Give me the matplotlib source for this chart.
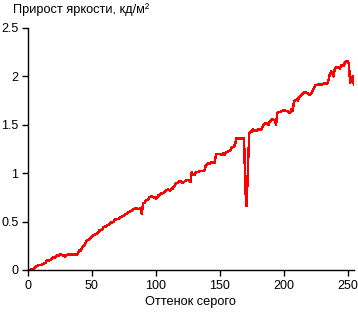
import matplotlib.pyplot as plt
import numpy as np

# gray level 0..255 -> brightness increment
gray = np.arange(256)
gain = [
    0.0, 0.0, 0.0, 0.01, 0.01, 0.02, 0.03, 0.04, 0.05, 0.05, 0.05, 0.06, 0.06, 0.07, 0.08, 0.1,
    0.1, 0.1, 0.11, 0.12, 0.13, 0.13, 0.14, 0.15, 0.15, 0.16, 0.16, 0.15, 0.15, 0.14, 0.15, 0.16,
    0.16, 0.16, 0.16, 0.16, 0.16, 0.16, 0.16, 0.17, 0.2, 0.2, 0.22, 0.25, 0.25, 0.28, 0.31, 0.31,
    0.32, 0.33, 0.35, 0.36, 0.36, 0.37, 0.38, 0.39, 0.41, 0.41, 0.42, 0.44, 0.45, 0.45, 0.46, 0.47,
    0.48, 0.49, 0.49, 0.5, 0.52, 0.52, 0.53, 0.53, 0.54, 0.55, 0.56, 0.56, 0.58, 0.58, 0.59, 0.6,
    0.61, 0.61, 0.62, 0.63, 0.64, 0.64, 0.63, 0.63, 0.64, 0.58, 0.69, 0.69, 0.72, 0.72, 0.73, 0.75,
    0.76, 0.76, 0.75, 0.75, 0.74, 0.75, 0.77, 0.77, 0.79, 0.79, 0.8, 0.81, 0.82, 0.83, 0.83, 0.82,
    0.84, 0.84, 0.86, 0.88, 0.9, 0.9, 0.91, 0.92, 0.91, 0.9, 0.91, 0.92, 0.93, 0.93, 0.92, 0.91,
    1.01, 0.99, 0.98, 1.0, 1.01, 1.01, 1.02, 1.02, 1.02, 1.02, 1.03, 1.08, 1.09, 1.1, 1.1, 1.11,
    1.11, 1.11, 1.11, 1.19, 1.2, 1.2, 1.2, 1.19, 1.19, 1.21, 1.19, 1.22, 1.22, 1.23, 1.23, 1.26,
    1.27, 1.27, 1.3, 1.36, 1.36, 1.36, 1.36, 1.36, 1.36, 1.36, 0.83, 0.66, 1.03, 1.41, 1.43, 1.43,
    1.45, 1.44, 1.44, 1.44, 1.45, 1.45, 1.45, 1.46, 1.5, 1.51, 1.52, 1.51, 1.5, 1.53, 1.55, 1.56,
    1.55, 1.55, 1.5, 1.62, 1.63, 1.63, 1.64, 1.64, 1.65, 1.65, 1.64, 1.64, 1.63, 1.62, 1.66, 1.64,
    1.74, 1.75, 1.76, 1.75, 1.79, 1.79, 1.81, 1.82, 1.84, 1.84, 1.83, 1.82, 1.81, 1.82, 1.83, 1.86,
    1.89, 1.91, 1.91, 1.92, 1.92, 1.91, 1.92, 1.92, 1.93, 1.93, 1.92, 1.96, 2.02, 2.05, 2.03, 2.0,
    2.08, 2.09, 2.1, 2.09, 2.08, 2.12, 2.11, 2.11, 2.15, 2.16, 2.16, 2.13, 1.93, 1.98, 2.0, 1.91,
]
xticks = [0, 50, 100, 150, 200, 250]
yticks = [0, 0.5, 1, 1.5, 2, 2.5]
ytick_labels = ["0", "0.5", "1", "1.5", "2", "2.5"]

plt.rcParams['font.family'] = ['Liberation Sans', 'DejaVu Sans']
plt.rcParams['font.size'] = 9

W, H = 358, 312
fig = plt.figure(figsize=(W / 100, H / 100), dpi=100)
ax = fig.add_axes([28 / W, 1 - 270 / H, 326 / W, 242 / H])

# the original is drawn without smoothing, so keep it crisp
ax.plot(gray, gain, color='red', lw=1.0, antialiased=False)

ax.set_xlim(0, 255)
ax.set_ylim(0, 2.5)
ax.set_xticks(xticks)
ax.set_yticks(yticks)
ax.set_yticklabels(ytick_labels)
for s in ['top', 'right']:
    ax.spines[s].set_visible(False)
for s in ['left', 'bottom']:
    ax.spines[s].set_linewidth(1)
ax.tick_params(length=4, width=1, pad=3, labelsize=9)

fig.text(13 / W, 1 - 10 / H, "Прирост яркости, кд/м²", ha='left', va='center', fontsize=9.2)
fig.text(190 / W, 1 - 302 / H, "Оттенок серого", ha='center', va='center', fontsize=9.2)

fig.savefig("out.png", dpi=100)
